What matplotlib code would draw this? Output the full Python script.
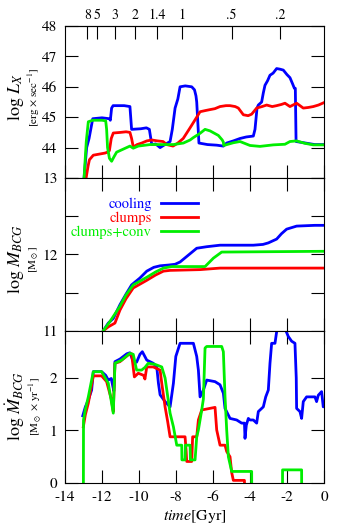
import matplotlib.pyplot as plt

plt.rcParams['font.family'] = 'STIXGeneral'
plt.rcParams['mathtext.fontset'] = 'stix'
plt.rcParams['axes.unicode_minus'] = False

# --- data ---
# top panel: log L_X
t_lx_cool = [-13.1, -12.97, -12.83, -12.7, -12.5, -12.0, -11.6, -11.55, -11.48, -11.4, -10.8, -10.49, -10.4,
             -9.9, -9.6, -9.44, -9.31, -9.1, -8.86, -8.6, -8.32, -8.2, -8.05, -7.9, -7.78, -7.5, -7.15, -7.0,
             -6.92, -6.88, -6.76, -6.3, -5.8, -5.44, -5.26, -4.9, -4.54, -4.2, -3.82, -3.73, -3.62, -3.55,
             -3.37, -3.28, -3.19, -3.05, -2.92, -2.75, -2.56, -2.38, -2.2, -2.0, -1.84, -1.7, -1.6, -1.55,
             -1.51, -1.0, -0.5, 0]
lx_cool = [42.0, 43.0, 44.0, 44.3, 44.95, 44.98, 44.95, 44.9, 45.3, 45.38, 45.38, 45.35, 44.6,
           44.62, 44.65, 44.6, 44.1, 44.12, 44.0, 44.1, 44.2, 44.6, 45.3, 45.6, 46.0, 46.03, 46.0, 45.9,
           45.7, 45.5, 44.15, 44.1, 44.08, 44.05, 44.15, 44.22, 44.3, 44.35, 44.38, 44.6, 45.3, 45.4,
           45.5, 45.8, 46.05, 46.2, 46.38, 46.45, 46.6, 46.58, 46.55, 46.4, 46.3, 46.1, 45.95, 45.95,
           44.2, 44.15, 44.1, 44.1]

t_lx_clump = [-13.0, -12.86, -12.75, -12.68, -12.47, -12.2, -11.84, -11.7, -11.6, -11.5, -11.39, -11.0, -10.7,
              -10.49, -10.4, -10.31, -10.1, -9.85, -9.58, -9.3, -9.0, -8.7, -8.5, -8.16, -7.9, -7.61, -7.24,
              -6.88, -6.7, -6.4, -6.16, -5.9, -5.62, -5.3, -5.08, -4.8, -4.63, -4.36, -4.1, -3.91, -3.64,
              -3.35, -3.1, -2.8, -2.56, -2.3, -2.11, -1.84, -1.48, -1.12, -0.85, -0.58, -0.3, 0]
lx_clump = [42.0, 43.0, 43.4, 43.6, 43.75, 43.78, 43.82, 43.85, 43.9, 44.3, 44.48, 44.5, 44.52,
            44.5, 44.3, 44.02, 44.1, 44.15, 44.22, 44.25, 44.22, 44.2, 44.1, 44.05, 44.15, 44.3, 44.65,
            45.0, 45.18, 45.22, 45.25, 45.28, 45.35, 45.38, 45.38, 45.35, 45.3, 45.08, 45.05, 45.1, 45.3,
            45.35, 45.4, 45.35, 45.38, 45.42, 45.46, 45.35, 45.46, 45.3, 45.32, 45.35, 45.4, 45.48]

t_lx_conv = [-13.05, -12.97, -12.85, -12.74, -12.5, -12.0, -11.8, -11.75, -11.7, -11.6, -11.48, -11.35, -11.21,
             -10.85, -10.49, -10.31, -10.04, -9.4, -8.86, -8.14, -7.6, -7.24, -7.06, -6.7, -6.43, -6.16,
             -5.71, -5.5, -5.44, -5.42, -4.9, -4.54, -4.0, -3.46, -2.74, -2.11, -1.84, -1.48, -1.03, -0.58, 0]
lx_conv = [42.0, 43.0, 44.2, 44.85, 44.9, 44.9, 44.88, 44.6, 44.0, 43.65, 43.55, 43.7, 43.85,
           43.95, 44.05, 43.98, 44.05, 44.1, 44.1, 44.1, 44.15, 44.25, 44.33, 44.47, 44.6, 44.55,
           44.4, 44.25, 44.18, 44.07, 44.16, 44.2, 44.07, 44.04, 44.09, 44.11, 44.2, 44.22, 44.14, 44.09, 44.09]

# middle panel: log M_BCG
t_m_cool = [-13.0, -11.93, -11.66, -11.39, -11.03, -10.7, -10.4, -9.95, -9.58, -9.2, -8.86, -8.4, -8.05,
            -7.78, -7.33, -6.88, -6.34, -5.62, -4.5, -3.82, -3.3, -3.01, -2.56, -2.3, -2.02, -1.48, -0.5, 0]
m_cool = [10.0, 11.0, 11.1, 11.16, 11.34, 11.48, 11.6, 11.69, 11.78, 11.83, 11.85, 11.86, 11.87,
          11.9, 11.99, 12.08, 12.1, 12.12, 12.12, 12.12, 12.13, 12.15, 12.2, 12.27, 12.33, 12.37, 12.38, 12.38]

t_m_clump = [-13.0, -11.93, -11.66, -11.3, -11.03, -10.7, -10.31, -9.58, -9.1, -8.68, -8.32, -6.7, -5.62, 0]
m_clump = [10.0, 11.0, 11.05, 11.1, 11.27, 11.42, 11.56, 11.66, 11.73, 11.78, 11.79, 11.8, 11.82, 11.82]

t_m_conv = [-13.0, -11.93, -11.57, -11.03, -10.7, -10.31, -9.58, -9.1, -8.68, -8.23, -6.43, -5.98, -5.53, 0]
m_conv = [10.0, 11.0, 11.12, 11.32, 11.47, 11.6, 11.7, 11.77, 11.82, 11.84, 11.84, 11.95, 12.03, 12.04]

# bottom panel: log Mdot_BCG
t_md_cool = [-13.04, -12.9, -12.74, -12.56, -12.47, -12.02, -11.8, -11.66, -11.5, -11.42, -11.36, -11.3,
             -11.03, -10.66, -10.49, -10.31, -10.13, -9.95, -9.82, -9.58, -9.23, -9.04, -8.95, -8.86, -8.59,
             -8.32, -8.14, -8.01, -7.78, -7.06, -6.88, -6.79, -6.7, -6.52, -6.34, -5.89, -5.62, -5.44,
             -5.35, -5.08, -4.72, -4.45, -4.3, -4.27, -4.2, -4.09, -4.0, -3.82, -3.64, -3.55, -3.28, -3.15,
             -3.01, -2.92, -2.83, -2.65, -2.47, -2.3, -1.93, -1.75, -1.57, -1.5, -1.48, -1.3, -1.21, -1.12,
             -0.94, -0.49, -0.4, -0.31, -0.13, -0.04, 0]
md_cool = [1.28, 1.45, 1.58, 1.77, 2.12, 2.12, 2.05, 1.96, 1.99, 1.85, 1.75, 2.31,
           2.36, 2.46, 2.48, 2.31, 2.3, 2.45, 2.5, 2.34, 2.28, 2.21, 1.9, 1.68, 1.55,
           1.45, 1.9, 2.41, 2.66, 2.66, 2.41, 2.15, 1.64, 1.77, 1.96, 1.93, 1.87, 1.71,
           1.42, 1.23, 1.2, 1.14, 1.14, 0.85, 1.1, 1.23, 1.2, 1.2, 1.14, 1.36, 1.45, 1.64,
           1.77, 2.28, 2.66, 2.66, 3.1, 3.1, 2.79, 2.7, 2.66, 2.0, 1.42, 1.36, 1.23, 1.55,
           1.64, 1.64, 1.55, 1.67, 1.74, 1.45, 1.5]

t_md_clump = [-13.01, -12.9, -12.74, -12.47, -12.02, -11.75, -11.5, -11.39, -11.3, -11.03, -10.58, -10.4,
              -10.25, -10.04, -9.75, -9.68, -9.58, -9.23, -8.86, -8.77, -8.59, -8.45, -8.32, -8.05, -7.51,
              -7.45, -7.42, -7.15, -7.1, -6.88, -6.79, -6.61, -5.89, -5.8, -5.62, -5.35, -5.26, -5.08,
              -4.99, -4.9, -4.3, -4.27]
md_clump = [1.07, 1.3, 1.52, 2.04, 2.04, 1.93, 1.6, 1.36, 2.28, 2.31, 2.44, 2.46,
            2.02, 2.09, 2.05, 1.98, 2.21, 2.21, 2.15, 1.9, 1.45, 1.17, 0.88, 0.88, 0.88,
            0.6, 0.41, 0.41, 0.88, 0.88, 1.2, 1.39, 1.44, 1.01, 0.72, 0.72, 0.6, 0.5,
            0.2, 0.05, 0.05, -1.0]

t_md_conv = [-13.01, -13.0, -12.9, -12.74, -12.47, -12.02, -11.66, -11.39, -11.3, -10.94, -10.49, -10.31,
             -10.13, -9.86, -9.68, -9.5, -9.14, -8.77, -8.59, -8.32, -8.14, -7.96, -7.69, -7.68, -7.51,
             -7.49, -7.24, -7.22, -6.97, -6.88, -6.79, -6.61, -6.52, -6.43, -6.34, -5.53, -5.44, -5.35,
             -5.26, -5.17, -4.99, -3.91, -3.9, -2.25, -2.24, -1.21, -1.2]
md_conv = [-1.0, 1.2, 1.4, 1.64, 2.12, 2.12, 1.9, 1.33, 2.28, 2.34, 2.47, 2.45,
           2.15, 2.15, 2.2, 2.28, 2.26, 2.21, 2.0, 1.33, 1.07, 0.72, 0.72, 0.44, 0.44,
           0.72, 0.72, 0.44, 0.44, 0.88, 1.01, 1.39, 1.6, 2.57, 2.6, 2.6, 2.5, 1.64,
           1.01, 0.5, 0.22, 0.22, -1.0, -1.0, 0.25, 0.25, -1.0]

# redshift ticks on top axis (lookback time in Gyr)
z_pos = [-12.79, -12.29, -11.31, -10.22, -9.01, -7.69, -4.99, -2.38]
z_labels = ['8', '5', '3', '2', '1.4', '1', '.5', '.2']

series_names = ['cooling', 'clumps', 'clumps+conv']
colors = ['#0000ff', '#ff0000', '#00ee00']

# --- figure ---
fig = plt.figure(figsize=(3.49, 5.26), dpi=100)
L, W = 65 / 349, 259 / 349
ax1 = fig.add_axes([L, 1 - 178 / 526, W, 152 / 526])
ax2 = fig.add_axes([L, 1 - 330.7 / 526, W, 152.7 / 526])
ax3 = fig.add_axes([L, 1 - 483 / 526, W, 152.3 / 526])

lw = 2.0
for t, v, c in zip([t_lx_cool, t_lx_clump, t_lx_conv], [lx_cool, lx_clump, lx_conv], colors):
    ax1.plot(t, v, color=c, lw=lw)
for t, v, c, n in zip([t_m_cool, t_m_clump, t_m_conv], [m_cool, m_clump, m_conv], colors, series_names):
    ax2.plot(t, v, color=c, lw=lw, label=n)
for t, v, c in zip([t_md_cool, t_md_clump, t_md_conv], [md_cool, md_clump, md_conv], colors):
    ax3.plot(t, v, color=c, lw=lw)

for ax in (ax1, ax2, ax3):
    ax.set_xlim(-14, 0)
    ax.set_xticks(range(-14, 1, 2))
    ax.tick_params(direction='in', length=9.5, width=0.8, labelsize=11, pad=5.5,
                   top=True, right=True)
    for s in ax.spines.values():
        s.set_linewidth(0.8)

ax1.set_ylim(43, 48)
ax1.set_yticks([43, 44, 45, 46, 47, 48], ['', '44', '45', '46', '47', '48'])
ax1.tick_params(top=False, labelbottom=False)

ax2.set_ylim(11, 13)
ax2.set_yticks([11, 11.5, 12, 12.5, 13], ['11', '', '12', '', '13'])
ax2.tick_params(labelbottom=False)

ax3.set_ylim(0, 2.9)
ax3.set_yticks([0, 1, 2])
ax3.set_xticks(range(-14, 1, 2), [str(v) for v in range(-14, 1, 2)])
ax3.set_xlabel(r'$\mathit{time}$[Gyr]', fontsize=11.5, labelpad=3)

sec = ax1.secondary_xaxis('top')
sec.set_xticks(z_pos, z_labels)
sec.tick_params(direction='in', length=9.5, width=0.8, labelsize=10, pad=3)

ax2.legend(loc='upper right', bbox_to_anchor=(0.535, 0.91), borderaxespad=0, frameon=False,
           markerfirst=False, labelcolor='linecolor', fontsize=10.5, handlelength=2.5,
           handletextpad=0.65, labelspacing=0.05)

# y labels: main line + units line (centre y, main x, unit x in pixels)
panels = [(97, 16, 34, r'log $L_X$', r'[erg $\times$ sec$^{-1}$]'),
          (259, 16, 34, r'log $M_{BCG}$', r'[M$_\odot$]'),
          (406, 15, 36, r'log $\dot{M}_{BCG}$', r'[M$_\odot$ $\times$ yr$^{-1}$]')]
for yc, xm, xu, main, unit in panels:
    fig.text(xm / 349, 1 - yc / 526, main, rotation=90, ha='center', va='center', fontsize=13)
    fig.text(xu / 349, 1 - yc / 526, unit, rotation=90, ha='center', va='center', fontsize=8)

fig.savefig('out.png', dpi=100)
